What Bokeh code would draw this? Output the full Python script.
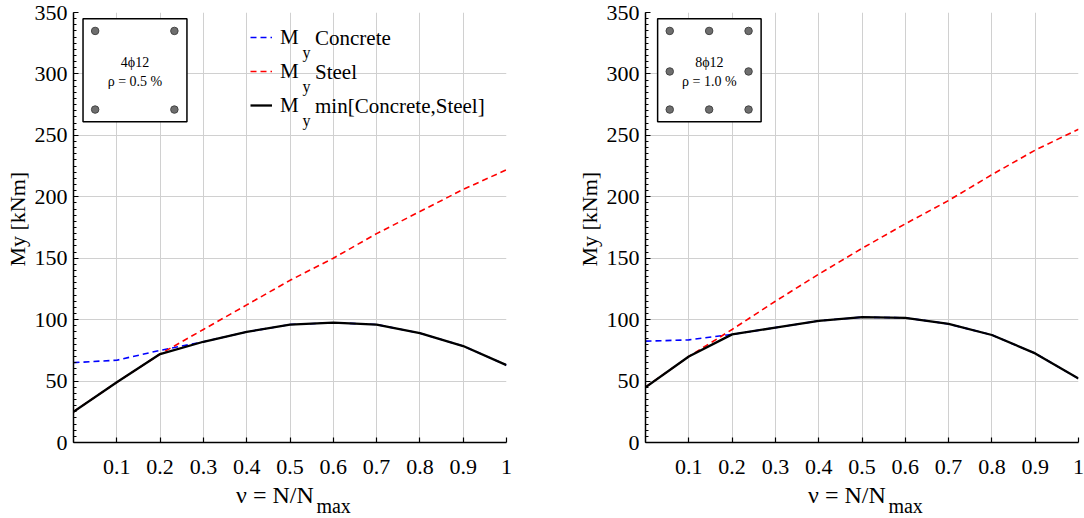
from bokeh.plotting import figure
from bokeh.models import FixedTicker, Label, Legend, LegendItem, Range1d
from bokeh.layouts import row, column
from bokeh.embed import file_html
from bokeh.resources import INLINE

# ---------------- data ----------------
nu = [0.0, 0.1, 0.2, 0.3, 0.4, 0.5, 0.6, 0.7, 0.8, 0.9, 1.0]

left_concrete = [65, 67, 75, 82, 90, 96, 97.5, 96, 89, 78.5, 63]
left_steel = [25, 49, 72, 92, 112, 132, 150, 170, 188, 206, 222]
left_min = [25, 49, 72, 82, 90, 96, 97.5, 96, 89, 78.5, 63]

right_concrete = [82.5, 83.5, 88, 93.5, 99, 102, 101.5, 96.5, 87.5, 72.5, 52]
right_steel = [45, 70, 92, 115, 137, 158, 178, 197, 218, 238, 255]
right_min = [45, 70, 88, 93.5, 99, 102, 101.5, 96.5, 87.5, 72.5, 52]

x_ticks = [0.1, 0.2, 0.3, 0.4, 0.5, 0.6, 0.7, 0.8, 0.9, 1.0]
x_tick_labels = ["0.1", "0.2", "0.3", "0.4", "0.5", "0.6", "0.7", "0.8", "0.9", "1"]
y_ticks = [0, 50, 100, 150, 200, 250, 300, 350]
y_minor_ticks = list(range(0, 351, 5))

legend_names = ["Concrete", "Steel", "min[Concrete,Steel]"]

# cross-section insets (diagram, in axis units)
left_box = [0.022, 0.262, 261, 345]
left_bar_x = [0.05, 0.233, 0.05, 0.233]
left_bar_y = [335, 335, 271, 271]
left_text = ["4\u03d512", "\u03c1 = 0.5 %"]

right_box = [0.028, 0.267, 261, 345]
right_bar_x = [0.056, 0.147, 0.238, 0.056, 0.238, 0.056, 0.147, 0.238]
right_bar_y = [335, 335, 335, 302, 302, 271, 271, 271]
right_text = ["8\u03d512", "\u03c1 = 1.0 %"]

FONT = "Liberation Serif"
BL = 73          # left border (frame starts here)


def make_panel(width, border_right, conc, steel, mn, box, bar_x, bar_y, texts, with_legend):
    p = figure(width=width, height=480,
               x_range=Range1d(0, 1), y_range=Range1d(0, 350),
               output_backend="svg", toolbar_location=None,
               min_border_left=BL, min_border_right=border_right,
               min_border_top=12, min_border_bottom=38)
    p.outline_line_color = None

    # axes
    p.xaxis.ticker = FixedTicker(ticks=x_ticks)
    p.xaxis.major_label_overrides = {t: s for t, s in zip(x_ticks, x_tick_labels)}
    p.yaxis.ticker = FixedTicker(ticks=y_ticks, minor_ticks=y_minor_ticks)
    for ax in (p.xaxis, p.yaxis):
        ax.axis_line_width = 1.5
        ax.axis_line_color = "black"
        ax.major_tick_in = 5
        ax.major_tick_out = 0
        ax.major_tick_line_width = 1.2
        ax.major_tick_line_color = "black"
        ax.minor_tick_in = 3
        ax.minor_tick_out = 0
        ax.minor_tick_line_color = "black"
        ax.major_label_text_font = FONT
        ax.major_label_text_font_size = "22px"
        ax.major_label_text_color = "black"
    p.xaxis.minor_tick_line_color = None
    p.xaxis.major_label_standoff = 17
    p.yaxis.major_label_standoff = 6
    p.yaxis.axis_label = "\u00a0\u00a0\u00a0My [kNm]"
    p.yaxis.axis_label_text_font = FONT
    p.yaxis.axis_label_text_font_style = "normal"
    p.yaxis.axis_label_text_font_size = "22px"
    p.yaxis.axis_label_text_color = "black"
    p.yaxis.axis_label_standoff = 2

    # grid
    p.xgrid.ticker = FixedTicker(ticks=x_ticks)
    p.ygrid.ticker = FixedTicker(ticks=y_ticks)
    p.grid.grid_line_color = "#d0d0d0"
    p.grid.grid_line_width = 1

    # curves
    r_c = p.line(nu, conc, line_color="#0000ff", line_width=1.6, line_dash="6 4")
    r_s = p.line(nu, steel, line_color="#ff0000", line_width=1.6, line_dash="6 4")
    r_m = p.line(nu, mn, line_color="black", line_width=2.3)

    # inset cross-section
    p.quad(left=[box[0]], right=[box[1]], bottom=[box[2]], top=[box[3]],
           fill_color="white", line_color="black", line_width=1.5)
    p.scatter(bar_x, bar_y, size=7.5, fill_color="#6e6e6e", line_color="#454545", line_width=1)
    cx = (box[0] + box[1]) / 2
    p.add_layout(Label(x=cx, y=309, text=texts[0], text_align="center", text_baseline="middle",
                       text_font=FONT, text_font_size="14px", text_color="black"))
    p.add_layout(Label(x=cx, y=294, text=texts[1], text_align="center", text_baseline="middle",
                       text_font=FONT, text_font_size="14px", text_color="black"))

    if with_legend:
        legend = Legend(items=[LegendItem(label="M", renderers=[r_c]),
                               LegendItem(label="M", renderers=[r_s]),
                               LegendItem(label="M", renderers=[r_m])],
                        location=(177, 322))
        legend.margin = 0
        legend.padding = 0
        legend.glyph_width = 22
        legend.glyph_height = 30
        legend.label_height = 30
        legend.label_width = 10
        legend.label_standoff = 8
        legend.spacing = 4
        legend.label_text_font = FONT
        legend.label_text_font_size = "21px"
        legend.label_text_color = "black"
        legend.border_line_alpha = 0
        legend.background_fill_alpha = 0
        p.add_layout(legend)
        row_y = [404.7, 370.7, 336.7]
        for name, yy in zip(legend_names, row_y):
            p.add_layout(Label(x=229, y=yy - 14.5, x_units="screen", y_units="screen",
                               text="y", text_align="left", text_baseline="middle",
                               text_font=FONT, text_font_size="16px", text_color="black"))
            p.add_layout(Label(x=241.5, y=yy, x_units="screen", y_units="screen",
                               text=name, text_align="left", text_baseline="middle",
                               text_font=FONT, text_font_size="21px", text_color="black"))
    return p


def make_xlabel_strip(width, border_right):
    s = figure(width=width, height=38, x_range=Range1d(0, 1), y_range=Range1d(0, 1),
               output_backend="svg", toolbar_location=None,
               x_axis_location=None, y_axis_location=None,
               min_border_left=BL, min_border_right=border_right,
               min_border_top=0, min_border_bottom=0)
    s.outline_line_color = None
    s.grid.visible = False
    s.add_layout(Label(x=0.555, y=24, x_units="data", y_units="screen",
                       text="\u03bd = N/N", text_align="right", text_baseline="alphabetic",
                       text_font=FONT, text_font_size="24px", text_color="black"))
    s.add_layout(Label(x=0.561, y=13, x_units="data", y_units="screen",
                       text="max", text_align="left", text_baseline="alphabetic",
                       text_font=FONT, text_font_size="20px", text_color="black"))
    return s


W1, R1 = 572, 66
W2, R2 = 512, 6

p1 = make_panel(W1, R1, left_concrete, left_steel, left_min,
                left_box, left_bar_x, left_bar_y, left_text, True)
p2 = make_panel(W2, R2, right_concrete, right_steel, right_min,
                right_box, right_bar_x, right_bar_y, right_text, False)
s1 = make_xlabel_strip(W1, R1)
s2 = make_xlabel_strip(W2, R2)

layout = row(column(p1, s1), column(p2, s2))
open("out.html", "w").write(file_html(layout, INLINE))
